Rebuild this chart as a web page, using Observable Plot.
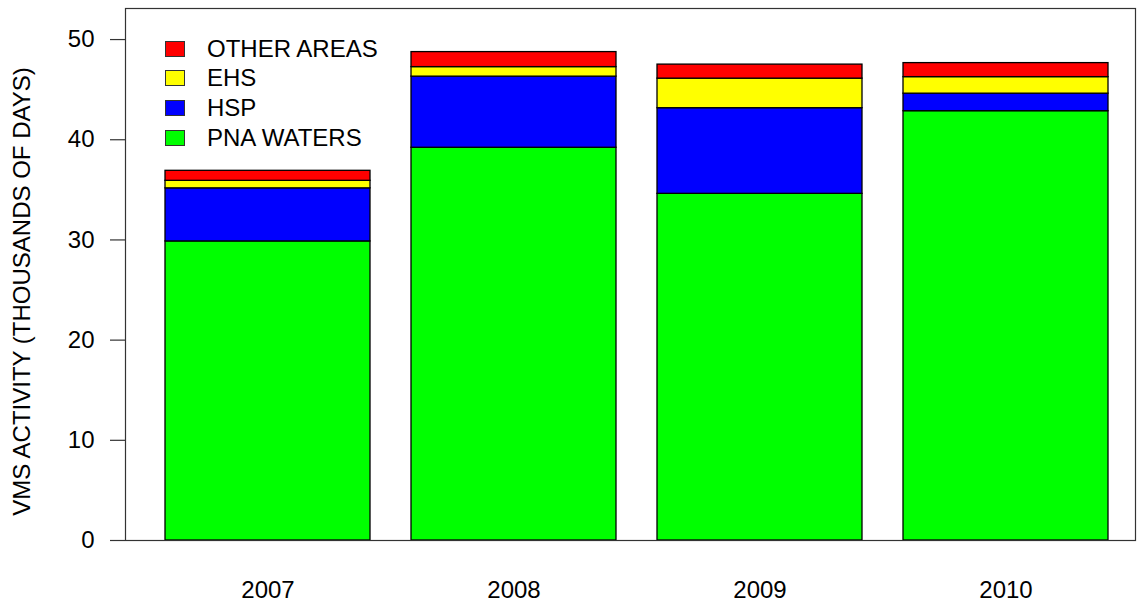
<!DOCTYPE html>
<html>
<head>
<meta charset="utf-8">
<script src="https://cdn.jsdelivr.net/npm/d3@7"></script>
<script src="https://cdn.jsdelivr.net/npm/@observablehq/plot@0.6"></script>
<style>
  html, body { margin: 0; padding: 0; background: #fff; }
  #wrap { position: relative; width: 1139px; height: 608px; font-family: "Liberation Sans", Arial, sans-serif; }
  #legend { position: absolute; left: 165px; top: 34px; }
  .row { display: flex; align-items: center; height: 29.6px; }
  .sw { width: 18px; height: 14px; border: 1px solid #333; box-sizing: content-box; margin-right: 22px; }
  .lab { font-size: 24px; color: #000; line-height: 1; }
</style>
</head>
<body>
<div id="wrap"></div>
<script>
const years = ["2007", "2008", "2009", "2010"];
const areas = ["PNA WATERS", "HSP", "EHS", "OTHER AREAS"];
const colors = ["#00FF00", "#0000FF", "#FFFF00", "#FF0000"];
const pnaWaters = [29.85, 39.2, 34.6, 42.85];
const hsp = [5.3, 7.1, 8.55, 1.75];
const ehs = [0.75, 0.95, 2.95, 1.65];
const otherAreas = [1.0, 1.5, 1.4, 1.4];
const yTicks = [0, 10, 20, 30, 40, 50];
const yLabel = "VMS ACTIVITY (THOUSANDS OF DAYS)";

const series = [pnaWaters, hsp, ehs, otherAreas];
const data = [];
years.forEach((yr, i) => {
  areas.forEach((a, j) => data.push({ year: yr, area: a, value: series[j][i] }));
});

const FS = 24;
const chart = Plot.plot({
  width: 1139,
  height: 608,
  marginLeft: 125,
  marginRight: 4,
  marginTop: 8,
  marginBottom: 68,
  style: { fontFamily: '"Liberation Sans", Arial, sans-serif', fontSize: FS + "px", background: "#fff", color: "#000" },
  x: { type: "band", domain: years, range: [163, 1109], paddingInner: 0.1667, paddingOuter: 0 },
  y: { domain: [0, 53.1] },
  color: { domain: areas, range: colors },
  marks: [
    Plot.barY(data, {
      x: "year", y: "value", fill: "area", order: areas,
      stroke: "#000", strokeWidth: 1.3, inset: 0
    }),
    Plot.frame({ stroke: "#333", strokeWidth: 1.2 }),
    Plot.axisY({ ticks: yTicks, tickSize: 15, tickPadding: 16, fontSize: FS, label: null, stroke: "#333", strokeWidth: 1.2 }),
    Plot.axisX({ tickSize: 0, tickPadding: 40, fontSize: FS, label: null }),
    Plot.text([yLabel], { frameAnchor: "left", textAnchor: "middle", rotate: -90, dx: -103, dy: 17, fontSize: FS, fill: "#000" })
  ]
});

const wrap = document.getElementById("wrap");
wrap.appendChild(chart);

const legend = document.createElement("div");
legend.id = "legend";
const order = [...areas].reverse();
order.forEach(a => {
  const row = document.createElement("div");
  row.className = "row";
  const sw = document.createElement("div");
  sw.className = "sw";
  sw.style.background = colors[areas.indexOf(a)];
  const lab = document.createElement("span");
  lab.className = "lab";
  lab.textContent = a;
  row.appendChild(sw);
  row.appendChild(lab);
  legend.appendChild(row);
});
wrap.appendChild(legend);
</script>
</body>
</html>
